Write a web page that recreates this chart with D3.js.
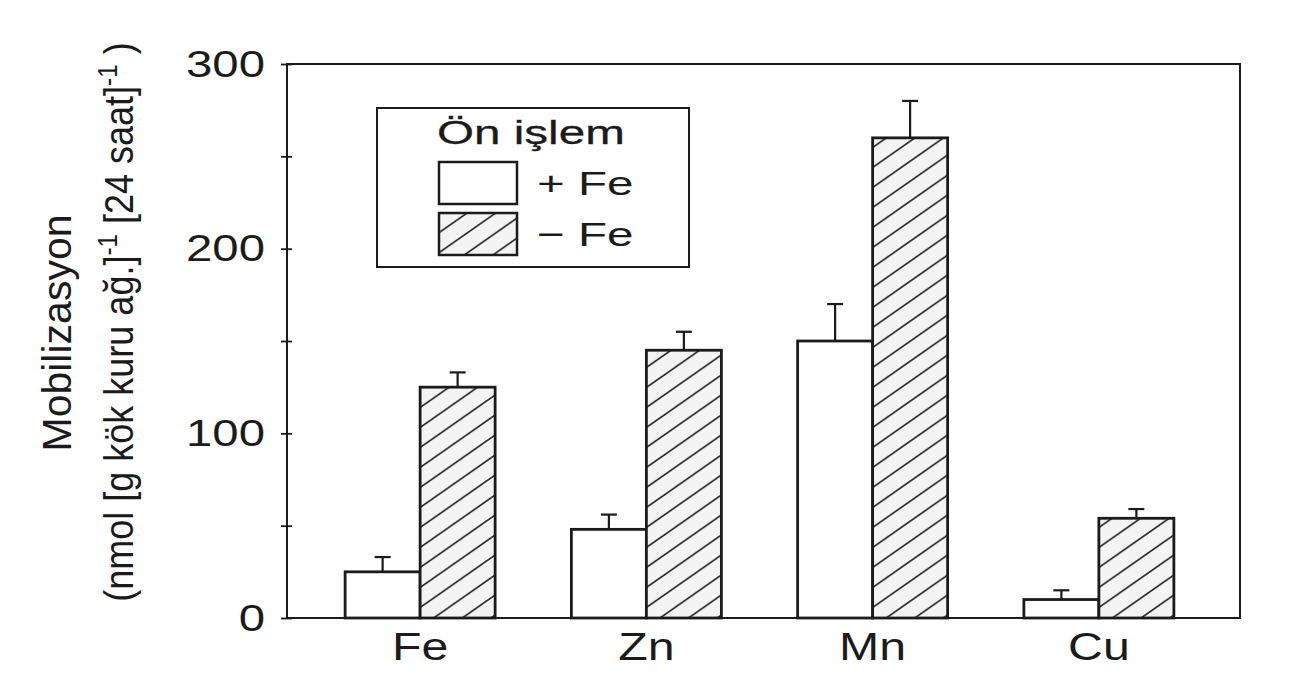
<!DOCTYPE html>
<html><head><meta charset="utf-8">
<script src="https://cdn.jsdelivr.net/npm/d3@7"></script>
<style>body{margin:0;background:#000}svg{display:block;background:#fff}</style></head>
<body>
<svg id="c" width="1313" height="690"></svg>
<script>
const categories = ["Fe", "Zn", "Mn", "Cu"];
const seriesNames = ["+ Fe", "− Fe"];
const plusFe = [25, 48, 150, 10];
const plusFeErr = [8, 8, 20, 5];
const minusFe = [125, 145, 260, 54];
const minusFeErr = [8, 10, 20, 5];
const yTickLabels = [0, 100, 200, 300];
const yAllTicks = [0, 50, 100, 150, 200, 250, 300];
const legendTitle = "Ön işlem";
const yTitle1 = "Mobilizasyon";

const svg = d3.select("#c");
const ink = "#1b1b1b";
const font = "'Liberation Sans', Arial, Helvetica, sans-serif";
const L = 287, R = 1240, T = 64, B = 618;

const y = d3.scaleLinear().domain([0, 300]).range([B, T]);
const x0 = d3.scaleBand().domain(categories).range([307, 1212]).padding(0);
const groupW = 150;
const x1 = d3.scaleBand().domain(seriesNames).range([0, groupW]).padding(0);

// hatch pattern
const defs = svg.append("defs");
const pw = 20 / 0.7, ph = 20;
const pat = defs.append("pattern").attr("id", "hatch").attr("patternUnits", "userSpaceOnUse")
  .attr("width", pw).attr("height", ph);
pat.append("rect").attr("width", pw).attr("height", ph).attr("fill", "#f4f4f4");
[[0, ph, pw, 0], [-pw/2, ph/2, pw/2, -ph/2], [pw/2, ph*1.5, pw*1.5, ph/2]].forEach(a => {
  pat.append("line").attr("x1", a[0]).attr("y1", a[1]).attr("x2", a[2]).attr("y2", a[3])
    .attr("stroke", "#2a2a2a").attr("stroke-width", 1.7);
});

// frame
svg.append("rect").attr("x", L).attr("y", T).attr("width", R - L).attr("height", B - T)
  .attr("fill", "none").attr("stroke", ink).attr("stroke-width", 2);

// left axis ticks (crossing)
const yAxis = d3.axisLeft(y).tickValues(yAllTicks).tickSize(6).tickFormat("");
const ga = svg.append("g").attr("transform", `translate(${L},0)`).call(yAxis);
ga.select(".domain").remove();
ga.selectAll(".tick line").attr("x1", -6).attr("x2", 5).attr("stroke", ink).attr("stroke-width", 1.8);

// tick labels
svg.append("g").selectAll("text").data(yTickLabels).join("text")
  .attr("transform", d => `translate(265,${y(d)}) scale(1.28,1)`)
  .attr("text-anchor", "end").attr("dominant-baseline", "central")
  .attr("font-family", font).attr("font-size", 37).attr("fill", ink)
  .text(d => d);

// bars
const data = categories.map((c, i) => ({
  c, vals: [
    { s: seriesNames[0], v: plusFe[i], e: plusFeErr[i] },
    { s: seriesNames[1], v: minusFe[i], e: minusFeErr[i] }
  ]
}));
const gx = c => x0(c) + (x0.bandwidth() - groupW) / 2;
const groups = svg.append("g").selectAll("g").data(data).join("g")
  .attr("transform", d => `translate(${gx(d.c)},0)`);
groups.selectAll("g.err").data(d => d.vals).join("g").attr("class", "err").each(function (d) {
  const g = d3.select(this);
  const cx = x1(d.s) + x1.bandwidth() / 2;
  g.append("line").attr("x1", cx).attr("x2", cx).attr("y1", y(d.v)).attr("y2", y(d.v + d.e))
    .attr("stroke", ink).attr("stroke-width", 2.2);
  g.append("line").attr("x1", cx - 8).attr("x2", cx + 8).attr("y1", y(d.v + d.e)).attr("y2", y(d.v + d.e))
    .attr("stroke", ink).attr("stroke-width", 2.2);
});
groups.selectAll("rect").data(d => d.vals).join("rect")
  .attr("x", d => x1(d.s)).attr("width", x1.bandwidth())
  .attr("y", d => y(d.v)).attr("height", d => y(0) - y(d.v))
  .attr("fill", d => d.s === seriesNames[0] ? "#fff" : "url(#hatch)")
  .attr("stroke", ink).attr("stroke-width", 2.8);

// x labels
svg.append("g").selectAll("text").data(categories).join("text")
  .attr("transform", c => `translate(${x0(c) + x0.bandwidth() / 2},660) scale(1.27,1)`)
  .attr("text-anchor", "middle")
  .attr("font-family", font).attr("font-size", 38).attr("fill", ink)
  .text(c => c);

// legend
const lg = svg.append("g");
lg.append("rect").attr("x", 377).attr("y", 108).attr("width", 312).attr("height", 159)
  .attr("fill", "#fff").attr("stroke", ink).attr("stroke-width", 2);
lg.append("text").attr("transform", "translate(437,144) scale(1.4,1)")
  .attr("font-family", font).attr("font-size", 34).attr("fill", ink)
  .attr("stroke", ink).attr("stroke-width", 0.3).text(legendTitle);
seriesNames.forEach((s, i) => {
  const yy = 162 + i * 51;
  lg.append("rect").attr("x", 439).attr("y", yy).attr("width", 78).attr("height", 42)
    .attr("fill", i === 0 ? "#fff" : "url(#hatch)").attr("stroke", ink).attr("stroke-width", 2.5);
  lg.append("text").attr("transform", `translate(537,${yy + 33}) scale(1.4,1)`)
    .attr("font-family", font).attr("font-size", 34).attr("fill", ink).text(s);
});

// y title
svg.append("text").attr("transform", `translate(71,333) rotate(-90)`)
  .attr("text-anchor", "middle").attr("font-family", font).attr("font-size", 41).attr("fill", ink)
  .text(yTitle1);
const t2 = svg.append("text").attr("transform", `translate(133,322) rotate(-90) scale(0.9,1)`)
  .attr("text-anchor", "middle").attr("font-family", font).attr("font-size", 40).attr("fill", ink);
t2.append("tspan").text("(nmol [g kök kuru ağ.]");
t2.append("tspan").attr("font-size", 27).attr("dy", -16).text("-1");
t2.append("tspan").attr("dy", 16).text("  [24 saat]");
t2.append("tspan").attr("font-size", 27).attr("dy", -16).text("-1");
t2.append("tspan").attr("dy", 16).text(" )");
</script>
</body></html>
